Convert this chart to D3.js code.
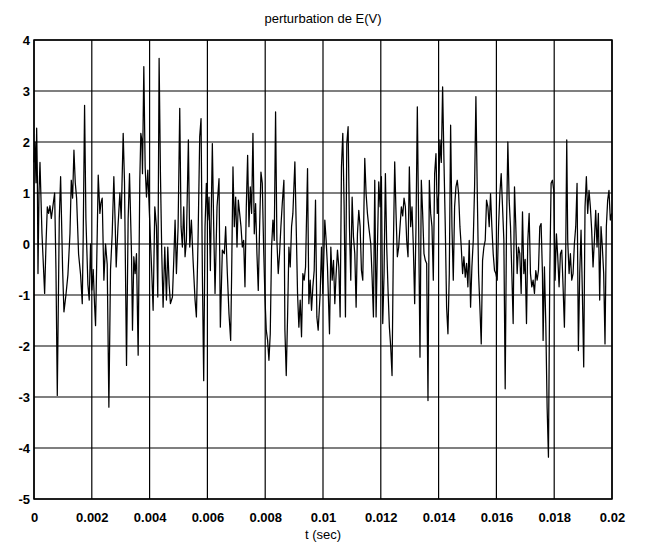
<!DOCTYPE html>
<html>
<head>
<meta charset="utf-8">
<script src="https://cdn.jsdelivr.net/npm/d3@7"></script>
<style>
  body { margin: 0; background: #fff; }
  svg { display: block; }
  text { font-family: "Liberation Sans", Arial, sans-serif; fill: #000; }
</style>
</head>
<body>
<svg id="chart" width="646" height="546"></svg>
<script>
// ---- data ----
const title = "perturbation de E(V)";
const xLabel = "t (sec)";
const xTicks = [0, 0.002, 0.004, 0.006, 0.008, 0.01, 0.012, 0.014, 0.016, 0.018, 0.02];
const xTickLabels = ["0", "0.002", "0.004", "0.006", "0.008", "0.01", "0.012", "0.014", "0.016", "0.018", "0.02"];
const yTicks = [-5, -4, -3, -2, -1, 0, 1, 2, 3, 4];
const yTickLabels = ["-5", "-4", "-3", "-2", "-1", "0", "1", "2", "3", "4"];

// time in milliseconds
const tMs = [
0.000,0.035,0.069,0.092,0.115,0.138,0.173,0.207,0.276,0.368,0.415,0.461,0.507,0.553,0.599,0.645,0.714,0.760,0.806,0.875,
0.921,0.990,1.036,1.105,1.174,1.244,1.290,1.336,1.382,1.428,1.474,1.543,1.612,1.670,1.704,1.750,1.796,1.865,1.911,1.957,
2.003,2.049,2.096,2.130,2.188,2.222,2.280,2.314,2.360,2.418,2.476,2.533,2.591,2.648,2.706,2.763,2.809,2.844,2.902,2.971,
3.017,3.086,3.132,3.201,3.258,3.305,3.374,3.408,3.454,3.500,3.546,3.604,3.661,3.696,3.731,3.754,3.800,3.846,3.892,3.938,
3.984,4.030,4.076,4.122,4.180,4.237,4.283,4.329,4.375,4.421,4.467,4.525,4.583,4.629,4.675,4.721,4.790,4.836,4.882,4.928,
4.986,5.043,5.089,5.135,5.181,5.227,5.273,5.342,5.389,5.446,5.504,5.573,5.619,5.676,5.734,5.780,5.826,5.872,5.918,5.964,
6.010,6.056,6.102,6.171,6.218,6.264,6.333,6.402,6.448,6.517,6.586,6.632,6.690,6.747,6.805,6.839,6.885,6.931,6.978,7.024,
7.070,7.116,7.162,7.208,7.254,7.300,7.346,7.392,7.438,7.484,7.530,7.576,7.622,7.668,7.714,7.760,7.807,7.853,7.899,7.945,
7.991,8.037,8.083,8.129,8.175,8.221,8.267,8.313,8.359,8.405,8.451,8.497,8.543,8.590,8.647,8.682,8.728,8.774,8.820,8.866,
8.912,8.958,9.027,9.073,9.119,9.165,9.211,9.257,9.303,9.349,9.396,9.465,9.511,9.557,9.603,9.649,9.695,9.741,9.787,9.833,
9.902,9.948,9.994,10.063,10.109,10.155,10.225,10.271,10.317,10.363,10.409,10.455,10.501,10.547,10.593,10.639,10.685,10.731,10.777,10.823,
10.869,10.915,10.961,11.008,11.054,11.100,11.146,11.192,11.238,11.284,11.330,11.376,11.445,11.491,11.537,11.583,11.652,11.699,11.745,11.791,
11.837,11.883,11.929,11.975,12.021,12.067,12.113,12.159,12.205,12.251,12.297,12.343,12.389,12.435,12.481,12.527,12.573,12.619,12.665,12.712,
12.758,12.804,12.850,12.896,12.942,12.988,13.034,13.080,13.126,13.172,13.218,13.264,13.310,13.356,13.402,13.448,13.494,13.541,13.587,13.633,
13.679,13.725,13.771,13.817,13.863,13.909,13.955,14.001,14.047,14.093,14.139,14.185,14.231,14.277,14.323,14.370,14.416,14.462,14.508,14.554,
14.600,14.646,14.692,14.738,14.784,14.830,14.876,14.922,14.968,15.014,15.060,15.106,15.152,15.199,15.245,15.291,15.337,15.383,15.429,15.475,
15.521,15.567,15.613,15.659,15.705,15.751,15.797,15.843,15.889,15.935,15.981,16.028,16.074,16.120,16.166,16.212,16.258,16.304,16.350,16.396,
16.442,16.488,16.534,16.580,16.626,16.672,16.718,16.764,16.810,16.857,16.903,16.949,16.995,17.041,17.087,17.133,17.179,17.225,17.271,17.317,
17.363,17.409,17.455,17.501,17.547,17.593,17.616,17.662,17.709,17.755,17.801,17.847,17.893,17.939,17.985,18.031,18.077,18.123,18.169,18.215,
18.261,18.307,18.353,18.399,18.434,18.468,18.515,18.561,18.607,18.653,18.699,18.745,18.791,18.837,18.883,18.929,18.975,19.021,19.067,19.113,
19.159,19.205,19.251,19.297,19.344,19.390,19.436,19.482,19.528,19.574,19.620,19.666,19.712,19.758,19.804,19.850,19.896,19.942,19.988
];

// E(V) perturbation values
const eV = [
1.6,2.0,1.2,2.27,1.4,-0.58,1.0,1.6,0.2,-0.97,0.0,0.73,0.6,0.75,0.5,0.7,1.0,-0.5,-2.97,0.5,
1.32,-0.5,-1.33,-1.0,-0.6,0.2,1.25,0.9,1.84,1.2,0.9,-0.2,-0.6,-1.17,0.2,2.72,0.5,-0.8,-1.1,0.0,
-0.9,-0.5,-1.2,-1.6,0.2,1.35,0.6,0.8,0.9,-0.71,0.0,-0.4,-3.2,-0.5,0.2,1.32,0.4,-0.45,0.3,1.0,
0.5,2.17,1.2,-2.38,0.5,1.38,-0.19,-1.69,-0.25,-0.58,-0.19,-2.18,1.25,2.17,2.04,1.38,3.48,1.51,0.92,1.45,
0.73,0.07,-0.58,-1.30,0.73,0.34,-1.04,3.64,1.38,-0.19,-1.24,-0.06,-1.10,-0.06,-0.78,-1.17,-1.04,-0.32,0.47,-0.58,
0.34,2.66,0.34,-0.06,0.73,-0.25,0.07,2.04,-0.06,0.47,-0.32,-1.10,-1.43,0.07,2.10,2.46,-0.58,-2.68,0.34,1.19,
0.47,0.92,-0.52,1.97,0.34,-0.97,0.73,1.28,-1.63,-0.12,-0.19,0.34,-0.58,-1.37,-1.89,-0.58,1.51,0.34,0.92,-0.06,
0.86,0.60,0.34,-0.06,0.07,-0.84,0.73,1.74,0.34,1.12,0.60,2.17,0.20,0.79,-0.19,-0.91,0.34,1.41,1.19,-0.06,
-1.04,-1.69,-1.89,-2.28,-1.76,-0.06,0.47,0.07,2.59,0.07,-0.58,-0.19,0.34,0.79,1.25,-1.69,-2.58,-1.43,-0.06,-0.45,
0.34,0.60,1.61,0.34,-0.97,-1.63,-1.10,-1.82,-0.58,-0.71,-0.45,1.48,-1.17,-0.71,-1.30,-0.84,-0.52,0.86,-1.43,-1.69,
-0.97,-0.06,-0.97,0.47,0.07,-0.45,-1.76,-0.06,-0.71,-0.32,-1.17,-0.58,-0.12,-0.45,-1.43,1.51,2.17,0.73,-1.43,1.97,
2.30,0.34,-0.71,0.92,0.14,-0.19,-1.24,0.20,0.66,0.34,-0.52,-0.71,1.68,0.99,0.60,0.34,0.01,-0.65,-1.43,1.25,
-1.43,-0.06,1.22,0.73,1.32,-1.56,-0.58,1.38,-0.06,-0.91,-1.63,-2.02,-2.58,-0.06,1.61,0.60,-0.25,-0.06,0.34,0.73,
0.55,0.90,0.73,0.07,-0.25,1.51,0.34,0.73,-0.06,-1.17,0.34,2.69,0.34,-2.22,1.25,0.60,-0.19,-0.32,-0.38,-3.07,
1.25,0.60,0.34,-0.71,1.38,1.77,0.60,0.99,2.04,1.60,3.08,1.64,0.34,-1.24,-1.76,-0.58,2.33,0.34,-0.71,0.73,
1.12,1.25,0.99,0.34,-0.06,-0.58,-0.25,-0.65,-0.38,-0.84,0.07,-1.24,-0.45,0.07,1.12,2.89,1.05,-0.58,-1.24,-1.96,
-0.32,-0.06,0.07,0.86,0.73,0.34,0.99,0.34,-0.19,-0.52,-0.58,-0.71,0.34,0.99,1.38,0.73,0.07,-2.84,0.34,2.00,
0.86,0.34,-0.58,-1.56,1.12,0.34,-0.58,-0.06,-0.19,-0.97,0.63,-0.58,-0.30,-1.56,0.07,0.60,-0.58,-0.84,-0.71,-0.97,
-0.52,-0.71,-0.52,0.34,0.40,-0.58,-1.89,-0.45,-1.56,-3.20,-4.18,-0.58,1.19,1.25,1.05,-0.71,0.20,-0.25,-0.84,-0.19,
-0.12,-0.84,-1.63,-0.12,2.04,0.07,-0.58,-0.19,-0.71,-0.58,0.01,0.34,1.19,-2.09,-0.58,0.27,-0.97,-2.41,0.73,1.32,
0.60,1.05,0.73,0.27,-0.45,0.07,0.66,-0.06,0.60,-1.10,0.34,-0.06,-0.58,-1.96,0.34,0.86,1.05,0.47,0.60
];

// ---- drawing ----
const svg = d3.select("#chart");
const plot = { left: 34, right: 612, top: 40, bottom: 499 };

const x = d3.scaleLinear().domain([0, 0.02]).range([plot.left, plot.right]);
const y = d3.scaleLinear().domain([-5, 4]).range([plot.bottom, plot.top]);

const data = tMs.map((t, i) => ({ t: t / 1000, v: eV[i] }));

// grid
const grid = svg.append("g");
grid.selectAll("line.vx").data(xTicks).join("line")
  .attr("x1", d => x(d)).attr("x2", d => x(d))
  .attr("y1", plot.top).attr("y2", plot.bottom)
  .attr("stroke", "#000").attr("stroke-width", 1.2);
grid.selectAll("line.hy").data(yTicks).join("line")
  .attr("x1", plot.left).attr("x2", plot.right)
  .attr("y1", d => y(d)).attr("y2", d => y(d))
  .attr("stroke", "#000").attr("stroke-width", 1.2);

// signal
svg.append("path")
  .datum(data)
  .attr("fill", "none")
  .attr("stroke", "#000")
  .attr("stroke-width", 1.25)
  .attr("stroke-linejoin", "round")
  .attr("d", d3.line().x(d => x(d.t)).y(d => y(d.v)));

// frame
svg.append("rect")
  .attr("x", plot.left).attr("y", plot.top)
  .attr("width", plot.right - plot.left).attr("height", plot.bottom - plot.top)
  .attr("fill", "none").attr("stroke", "#000").attr("stroke-width", 1.5);

// axes (labels only)
const xAxis = svg.append("g")
  .attr("transform", `translate(0,${plot.bottom})`)
  .call(d3.axisBottom(x).tickValues(xTicks)
    .tickFormat((d, i) => xTickLabels[i]).tickSize(0).tickPadding(14));
xAxis.select(".domain").remove();
xAxis.selectAll("text")
  .style("font-family", '"Liberation Sans", Arial, sans-serif')
  .style("font-size", "13px").style("font-weight", "bold").attr("fill", "#000");

const yAxis = svg.append("g")
  .attr("transform", `translate(${plot.left},0)`)
  .call(d3.axisLeft(y).tickValues(yTicks)
    .tickFormat((d, i) => yTickLabels[i]).tickSize(0).tickPadding(4));
yAxis.select(".domain").remove();
yAxis.selectAll("text")
  .style("font-family", '"Liberation Sans", Arial, sans-serif')
  .style("font-size", "13px").style("font-weight", "bold").attr("fill", "#000");

// title & x label
svg.append("text")
  .attr("x", (plot.left + plot.right) / 2).attr("y", 23)
  .attr("text-anchor", "middle")
  .style("font-size", "13px")
  .text(title);
svg.append("text")
  .attr("x", (plot.left + plot.right) / 2).attr("y", 539)
  .attr("text-anchor", "middle")
  .style("font-size", "13px")
  .text(xLabel);
</script>
</body>
</html>
